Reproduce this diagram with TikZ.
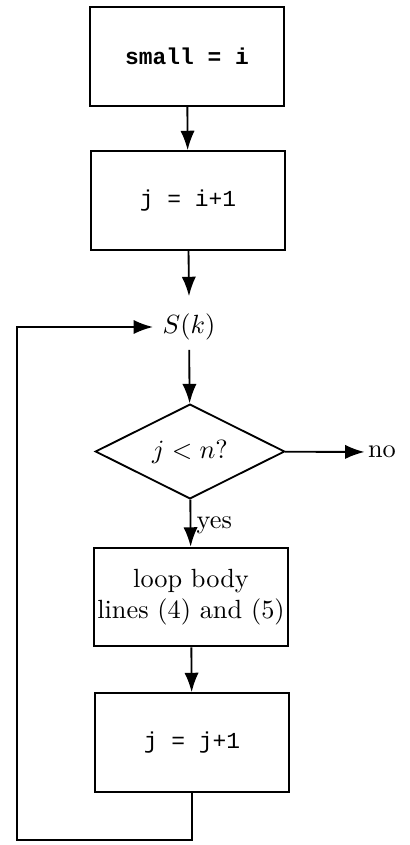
\documentclass[tikz,border=0pt]{standalone}
\usepackage{fontspec}
\setmonofont{Liberation Mono}
\usetikzlibrary{arrows.meta,shapes.geometric}

\begin{document}
\begin{tikzpicture}[x=0.38pt, y=-0.38pt, line width=0.7pt,
  stmt/.style={draw, minimum width=73.5pt, minimum height=37.5pt, align=center, inner sep=1pt},
  cond/.style={draw, diamond, aspect=2, minimum width=72pt, minimum height=36pt, inner sep=0pt},
  code/.style={font=\ttfamily\fontsize{8.7}{10}\selectfont},
  flow/.style={-{Latex[length=2.6mm,width=1.9mm]}}]
\useasboundingbox (0,0) rectangle (409,845);
% Statements before the loop
\node[stmt, code] (small) at (187,56.5) {\bfseries small = i};
\node[stmt, code] (jinit) at (188,200.5) {j = i+1};
\node (sk) at (189,327) {$S(k)$};
% Loop test
\node[cond] (test) at (190,451.5) {$j<n?$};
\node[inner sep=1pt] (no) at (382,452) {no};
% Loop body and increment
\node[stmt] (body) at (191,597) {loop body\\lines (4) and (5)};
\node[stmt, code] (incr) at (192,742.5) {j = j+1};
\coordinate (back) at (17,840);
\draw[flow] (small) -- (jinit);
\draw[flow] (jinit) -- ([yshift=3pt]sk.north);
\draw[flow] (sk) -- (test);
\draw[flow] (test) -- (no);
\draw[flow] (test) -- node[right, pos=0.55, inner sep=2pt] {yes} (body);
\draw[flow] (body) -- (incr);
% Back to the top of the loop
\draw[flow] (incr.south) |- (back) |- (sk.west);
\end{tikzpicture}
\end{document}
